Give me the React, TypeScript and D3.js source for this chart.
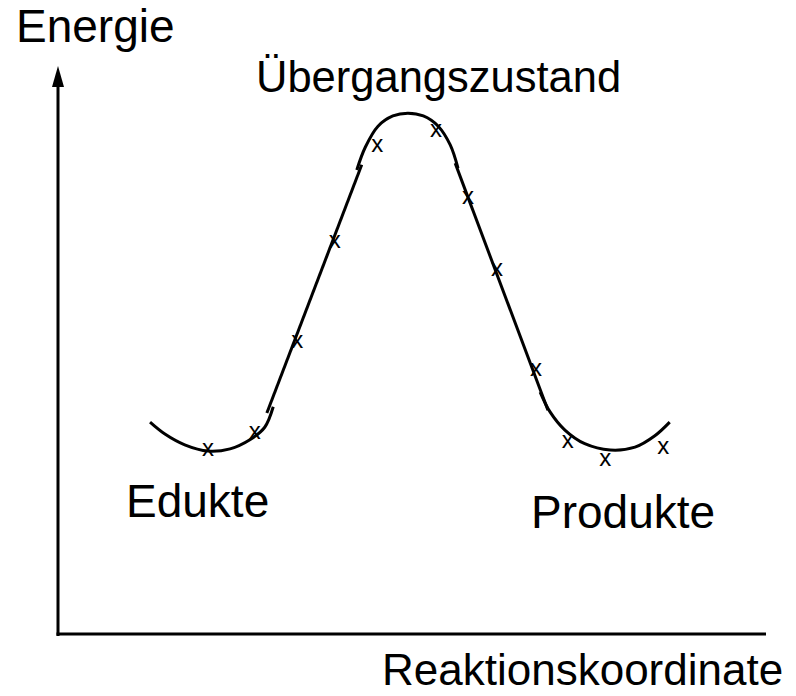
import React from 'react';
import * as d3 from 'd3';

// curve pieces (reaction coordinate 0-100, energy 0-100)
const leftWell: [number, number][] = [
    [13.0, 37.3], [15.1, 35.2], [17.9, 33.3], [21.2, 32.2], [24.3, 32.6],
    [27.1, 34.2], [29.2, 36.4], [30.4, 40.0],
];
const riseLine: [number, number][] = [[29.5, 38.9], [42.9, 82.6]];
const topArc: [number, number][] = [
    [42.2, 81.7], [43.4, 85.7], [45.2, 89.4], [47.3, 91.2], [49.4, 91.7],
    [51.6, 91.2], [53.7, 89.4], [55.4, 86.1], [56.5, 82.0],
];
const fallLine: [number, number][] = [[56.1, 82.9], [69.2, 39.4]];
const rightWell: [number, number][] = [
    [68.1, 42.6], [69.5, 39.1], [71.6, 35.9], [74.4, 33.5], [78.0, 32.4],
    [81.5, 32.9], [84.3, 34.9], [86.4, 37.3],
];

// measured points ("x" marks)
const markX = [21.2, 27.8, 33.8, 39.1, 45.1, 53.4, 57.9, 62.0, 67.5, 72.0, 77.3, 85.5];
const markY = [32.4, 35.4, 51.4, 69.0, 85.9, 88.6, 76.8, 64.1, 46.5, 33.8, 30.6, 32.7];

const yTitle = 'Energie';
const xTitle = 'Reaktionskoordinate';
const peakLabel = 'Übergangszustand';
const leftLabel = 'Edukte';
const rightLabel = 'Produkte';

const W = 796;
const H = 696;
const font = '"Liberation Sans", Arial, sans-serif';

const App: React.FC = () => {
    const x = d3.scaleLinear().domain([0, 100]).range([58, 766]);
    const y = d3.scaleLinear().domain([0, 100]).range([634, 66]);

    const smooth = d3.line<[number, number]>()
        .x(d => x(d[0]))
        .y(d => y(d[1]))
        .curve(d3.curveCatmullRom.alpha(0.5));
    const straight = d3.line<[number, number]>()
        .x(d => x(d[0]))
        .y(d => y(d[1]));

    const x0 = x(0);
    const y0 = y(0);
    const yTop = y(100);

    return (
        <svg width={W} height={H} style={{ position: 'absolute', left: 0, top: 0, background: '#fff' }}>
            {/* axes */}
            <line x1={x0} y1={y0 + 2} x2={x0} y2={yTop + 20} stroke="#000" strokeWidth={3} />
            <path d={`M${x0},${yTop} L${x0 - 6},${yTop + 21} L${x0 + 6},${yTop + 21} Z`} fill="#000" />
            <line x1={x0 - 1.5} y1={y0} x2={x(100)} y2={y0} stroke="#000" strokeWidth={3} />

            {/* energy profile */}
            <g fill="none" stroke="#000" strokeWidth={3}>
                <path d={smooth(leftWell) || ''} />
                <path d={straight(riseLine) || ''} />
                <path d={smooth(topArc) || ''} />
                <path d={straight(fallLine) || ''} />
                <path d={smooth(rightWell) || ''} />
            </g>

            <g fontFamily={font} fontSize={24} textAnchor="middle">
                {markX.map((mx, i) => (
                    <text key={i} x={x(mx)} y={y(markY[i]) + 6}>x</text>
                ))}
            </g>

            <g fontFamily={font} fill="#000">
                <text x={16} y={42} fontSize={46}>{yTitle}</text>
                <text x={256} y={92} fontSize={43.5}>{peakLabel}</text>
                <text x={126} y={517} fontSize={46}>{leftLabel}</text>
                <text x={531} y={528} fontSize={46}>{rightLabel}</text>
                <text x={382} y={685} fontSize={44}>{xTitle}</text>
            </g>
        </svg>
    );
};

export default App;
